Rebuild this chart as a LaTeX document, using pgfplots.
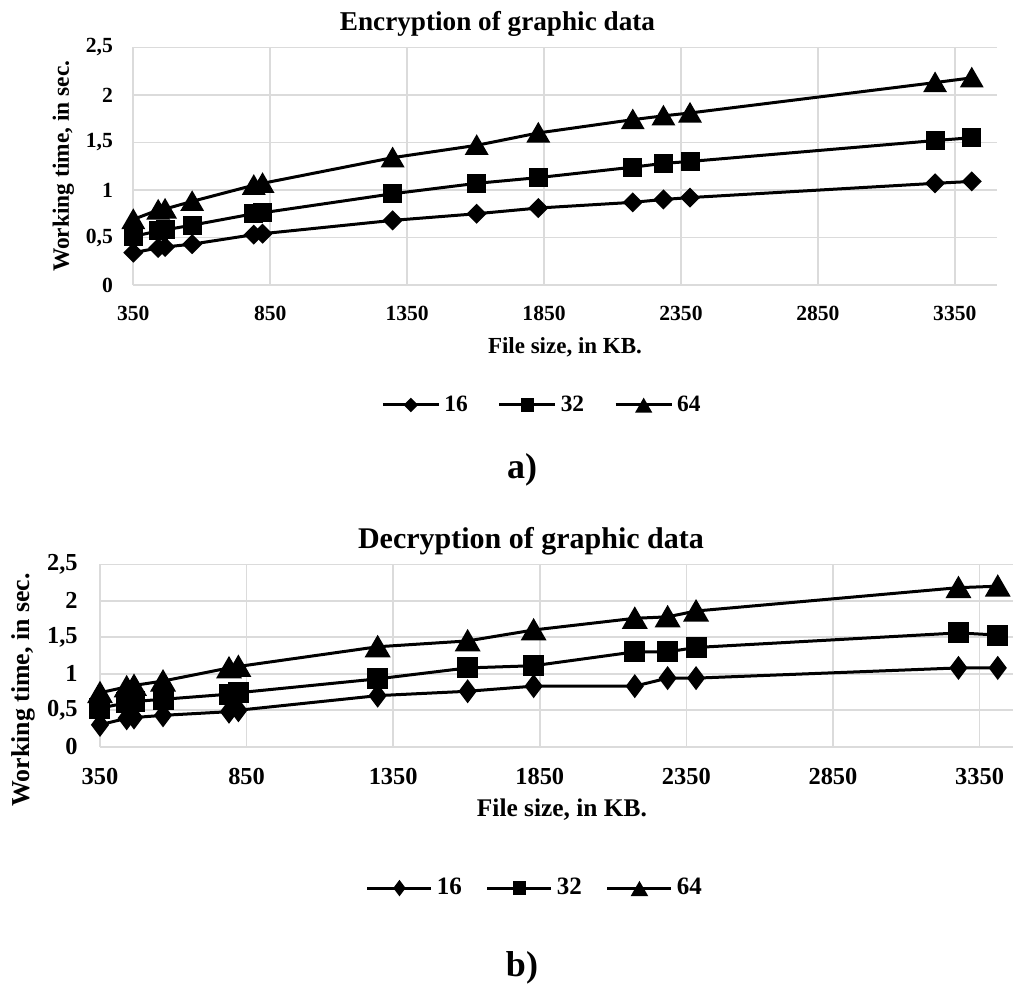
\documentclass[border=0pt]{standalone}
\usepackage{fontspec}
\setmainfont{Liberation Serif}
\usepackage{pgfplots}
\pgfplotsset{compat=1.18}

% x positions (file size, KB) are the same in both charts
\pgfplotstableread{
x     e16   e32   e64   d16   d32   d64
350   0.34  0.51  0.69  0.30  0.53  0.74
441   0.39  0.57  0.79  0.39  0.60  0.82
466   0.40  0.58  0.80  0.40  0.62  0.84
565   0.43  0.63  0.88  0.43  0.65  0.90
790   0.53  0.75  1.05  0.48  0.72  1.08
822   0.54  0.76  1.07  0.50  0.74  1.10
1297  0.68  0.96  1.34  0.70  0.93  1.37
1604  0.75  1.07  1.47  0.76  1.08  1.45
1829  0.81  1.13  1.60  0.83  1.11  1.60
2174  0.87  1.24  1.74  0.83  1.30  1.76
2286  0.90  1.28  1.78  0.94  1.30  1.78
2383  0.92  1.30  1.81  0.94  1.36  1.86
3278  1.07  1.52  2.13  1.08  1.56  2.18
3412  1.09  1.55  2.18  1.08  1.53  2.20
}\datatable

\pgfplotsset{
  excel/.style={
    scale only axis,
    clip=false,
    axis line style={draw=none},
    major tick length=0pt,
    grid=major,
    grid style={gray!28, line width=0.8pt},
    xmin=350, ymin=0, ymax=2.5,
    xtick={350,850,1350,1850,2350,2850,3350},
    xticklabels={350,850,1350,1850,2350,2850,3350},
    ytick={0,0.5,1,1.5,2,2.5},
    yticklabels={0,{0,5},1,{1,5},2,{2,5}},
    legend columns=-1,
    every axis plot/.append style={black, line width=1.5pt},
  },
}

\begin{document}
\begin{tikzpicture}
\path[use as bounding box] (0,0) rectangle (507pt,-493.5pt);

% ---------- a) encryption ----------
\begin{axis}[
  excel,
  at={(66.65pt,-142.5pt)}, anchor=south west,
  width=431.7pt, height=118.8pt,
  xmax=3503,
  ticklabel style={font=\fontsize{10.8}{12}\selectfont\bfseries, inner sep=0pt},
  xticklabel style={anchor=center, yshift=-14pt},
  yticklabel style={anchor=east, xshift=-10pt},
  title={Encryption of graphic data},
  title style={at={([yshift=5.7pt]axis description cs:0.4218,1)}, anchor=center,
    font=\fontsize{13.6}{16}\selectfont\bfseries},
  xlabel={File size, in KB.},
  xlabel style={at={([yshift=-31pt]axis description cs:0.5,0)}, anchor=center,
    font=\fontsize{11.5}{14}\selectfont\bfseries},
  ylabel={Working time, in sec.},
  ylabel style={at={([xshift=-35pt]axis description cs:0,0.5)}, anchor=center,
    font=\fontsize{11.7}{14}\selectfont\bfseries},
  legend style={at={(0.4745,-0.505)}, anchor=center, draw=none, fill=none,
    font=\fontsize{11.7}{14}\selectfont\bfseries,
    /tikz/every even column/.append style={column sep=13pt}},
  legend image code/.code={
    \draw[#1, mark=none] (0pt,0pt) -- (28pt,0pt);
    \draw[#1, every mark/.append style={scale=0.65}] plot coordinates {(14pt,0pt)};
  },
]
\addplot[mark=square*, mark size=2.8pt, mark options={rotate=45}]
  table[x=x, y=e16] {\datatable};
\addplot[mark=square*, mark size=4pt]
  table[x=x, y=e32] {\datatable};
\addplot[mark=triangle*, mark size=5.4pt, mark options={yshift=-1.35pt}]
  table[x=x, y=e64] {\datatable};
\legend{16,32,64}
\end{axis}

% ---------- b) decryption ----------
\begin{axis}[
  excel,
  at={(50pt,-373.35pt)}, anchor=south west,
  width=456.5pt, height=91.2pt,
  xmax=3464,
  ticklabel style={font=\fontsize{12.2}{14}\selectfont\bfseries, inner sep=0pt},
  xticklabel style={anchor=center, yshift=-15pt},
  yticklabel style={anchor=east, xshift=-11pt},
  title={Decryption of graphic data},
  title style={at={([yshift=5.5pt]axis description cs:0.472,1)}, anchor=center,
    font=\fontsize{15}{18}\selectfont\bfseries},
  xlabel={File size, in KB.},
  xlabel style={at={([yshift=-31.6pt]axis description cs:0.506,0)}, anchor=center,
    font=\fontsize{12.7}{15}\selectfont\bfseries},
  ylabel={Working time, in sec.},
  ylabel style={at={([xshift=-38.5pt]axis description cs:0,0.311)}, anchor=center,
    font=\fontsize{12.9}{15}\selectfont\bfseries},
  legend style={at={(0.4775,-0.775)}, anchor=center, draw=none, fill=none,
    font=\fontsize{12.5}{15}\selectfont\bfseries,
    /tikz/every even column/.append style={column sep=10pt}},
  legend image code/.code={
    \draw[#1, mark=none] (0pt,0pt) -- (32pt,0pt);
    \draw[#1, every mark/.append style={scale=0.6}] plot coordinates {(16pt,0pt)};
  },
]
\addplot[mark=diamond*, mark size=4.8pt]
  table[x=x, y=d16] {\datatable};
\addplot[mark=square*, mark size=4.5pt]
  table[x=x, y=d32] {\datatable};
\addplot[mark=triangle*, mark size=6pt, mark options={yshift=-1.5pt}]
  table[x=x, y=d64] {\datatable};
\legend{16,32,64}
\end{axis}

\node[font=\fontsize{18}{20}\selectfont\bfseries] at (261pt,-235pt) {a)};
\node[font=\fontsize{18}{20}\selectfont\bfseries] at (261pt,-484pt) {b)};
\end{tikzpicture}
\end{document}
